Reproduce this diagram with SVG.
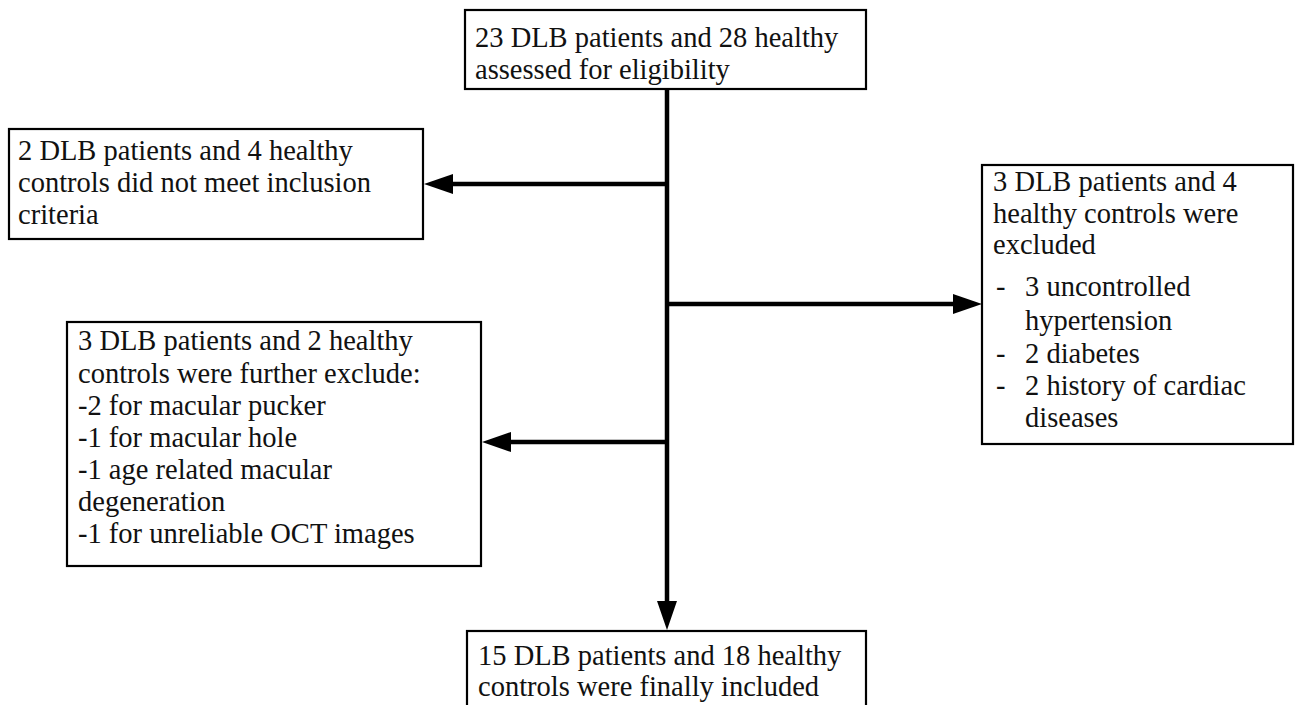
<svg xmlns="http://www.w3.org/2000/svg" width="1298" height="705" viewBox="0 0 1298 705">
<defs>
<style>
.box{fill:#fff;stroke:#000;stroke-width:2.2}
.t{font-family:"Liberation Serif","Times New Roman",serif;font-size:28.5px;fill:#111}
.c{stroke:#000;stroke-width:4.5;fill:none}
</style>
<marker id="ah" markerUnits="userSpaceOnUse" markerWidth="30" markerHeight="22" refX="9" refY="10" orient="auto" viewBox="0 0 30 20">
<path d="M0,0 L29,10 L0,20 z" fill="#000"/>
</marker>
</defs>
<rect width="1298" height="705" fill="#fff"/>
<g id="connectors">
<line class="c" x1="667" y1="89" x2="667" y2="610" marker-end="url(#ah)"/>
<line class="c" x1="667" y1="184" x2="444" y2="184" marker-end="url(#ah)"/>
<line class="c" x1="667" y1="304" x2="962" y2="304" marker-end="url(#ah)"/>
<line class="c" x1="667" y1="442" x2="502" y2="442" marker-end="url(#ah)"/>
</g>
<g id="n-start">
<rect class="box" x="465" y="10" width="401" height="79"/>
<text class="t" x="475" y="47">23 DLB patients and 28 healthy</text>
<text class="t" x="475" y="79">assessed for eligibility</text>
</g>
<g id="n-excl1">
<rect class="box" x="9" y="129" width="414" height="110"/>
<text class="t" x="18" y="160">2 DLB patients and 4 healthy</text>
<text class="t" x="18" y="192">controls did not meet inclusion</text>
<text class="t" x="18" y="224">criteria</text>
</g>
<g id="n-excl2">
<rect class="box" x="982" y="165" width="311" height="279"/>
<text class="t" x="993" y="191">3 DLB patients and 4</text>
<text class="t" x="993" y="223">healthy controls were</text>
<text class="t" x="993" y="254">excluded</text>
<text class="t" x="996" y="296">-</text>
<text class="t" x="1025" y="296">3 uncontrolled</text>
<text class="t" x="1025" y="330">hypertension</text>
<text class="t" x="996" y="363">-</text>
<text class="t" x="1025" y="363">2 diabetes</text>
<text class="t" x="996" y="395">-</text>
<text class="t" x="1025" y="395">2 history of cardiac</text>
<text class="t" x="1025" y="427">diseases</text>
</g>
<g id="n-excl3">
<rect class="box" x="67" y="322" width="414" height="244"/>
<text class="t" x="78" y="350">3 DLB patients and 2 healthy</text>
<text class="t" x="78" y="383">controls were further exclude:</text>
<text class="t" x="78" y="415">-2 for macular pucker</text>
<text class="t" x="78" y="447">-1 for macular hole</text>
<text class="t" x="78" y="479">-1 age related macular</text>
<text class="t" x="78" y="511">degeneration</text>
<text class="t" x="78" y="543">-1 for unreliable OCT images</text>
</g>
<g id="n-final">
<rect class="box" x="467" y="631" width="399" height="90"/>
<text class="t" x="478" y="665">15 DLB patients and 18 healthy</text>
<text class="t" x="478" y="696">controls were finally included</text>
</g>
</svg>
